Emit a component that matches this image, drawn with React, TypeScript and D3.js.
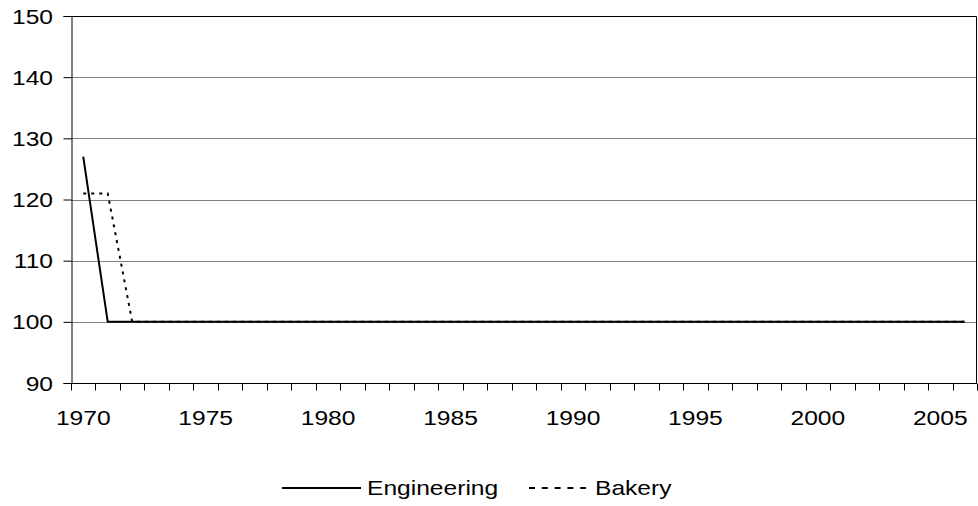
import React, { useEffect, useRef } from "react";
import * as d3 from "d3";

const years = d3.range(1970, 2007).map(String);
const engineering = [127, ...new Array(36).fill(100)];
const bakery = [121, 121, ...new Array(35).fill(100)];
const yTicks = [90, 100, 110, 120, 130, 140, 150];
const xLabelYears = ["1970", "1975", "1980", "1985", "1990", "1995", "2000", "2005"];

const FS = 20.5;
const SX = 1.2; // labels in the original are stretched horizontally

const LineChart = () => {
  const chartRef = useRef<SVGSVGElement>(null);

  const drawChart = () => {
    d3.select(chartRef.current).selectAll("*").remove();

    const width = 978;
    const height = 506;
    const left = 71;
    const right = 977;
    const top = 16;
    const bottom = 383;

    const svg = d3
      .select(chartRef.current)
      .attr("width", width)
      .attr("height", height)
      .style("font-family", "'Liberation Sans', Arial, sans-serif");

    const x = d3.scaleBand().domain(years).range([left, right]);
    const y = d3.scaleLinear().domain([90, 150]).range([bottom, top]);

    const label = (g: any, tx: number, ty: number, txt: string, anchor: string) =>
      g
        .append("text")
        .attr("transform", `translate(${tx},${ty}) scale(${SX},1)`)
        .attr("text-anchor", anchor)
        .attr("font-size", FS)
        .attr("fill", "#000")
        .text(txt);

    // gridlines
    svg
      .selectAll(".grid")
      .data(yTicks.filter((t) => t > 90 && t < 150))
      .join("line")
      .attr("x1", left)
      .attr("x2", right)
      .attr("y1", (d) => Math.round(y(d)) + 0.5)
      .attr("y2", (d) => Math.round(y(d)) + 0.5)
      .attr("stroke", "#808080")
      .attr("stroke-width", 1);

    // plot border (top + right)
    svg
      .append("path")
      .attr("d", `M${left},${top + 0.5}H${right - 0.5}V${bottom}`)
      .attr("fill", "none")
      .attr("stroke", "#000");

    // Y axis
    const yAxis = d3.axisLeft(y).tickValues(yTicks).tickSize(8).tickFormat(() => "");
    const gy = svg.append("g").attr("transform", `translate(${left + 0.5},0)`).call(yAxis);
    gy.select(".domain").attr("stroke", "#000");
    gy.selectAll(".tick line").attr("stroke", "#000");
    yTicks.forEach((t) => label(svg, 53, y(t) + 7.5, String(t), "end"));

    // X axis: ticks between categories
    const gx = svg.append("g").attr("transform", `translate(0,${bottom + 0.5})`);
    gx.append("line").attr("x1", left).attr("x2", right).attr("stroke", "#000");
    gx.selectAll(".xt")
      .data(years.concat(["end"]))
      .join("line")
      .attr("x1", (d, i) => Math.round(left + i * x.bandwidth()) + 0.5)
      .attr("x2", (d, i) => Math.round(left + i * x.bandwidth()) + 0.5)
      .attr("y1", 0)
      .attr("y2", 7)
      .attr("stroke", "#000");
    xLabelYears.forEach((d) => label(svg, x(d)! + x.bandwidth() / 2, 425, d, "middle"));

    const line = d3
      .line<number>()
      .x((d, i) => x(years[i])! + x.bandwidth() / 2)
      .y((d) => y(d));

    svg
      .append("path")
      .datum(engineering)
      .attr("d", line)
      .attr("fill", "none")
      .attr("stroke", "#000")
      .attr("stroke-width", 2);

    svg
      .append("path")
      .datum(bakery)
      .attr("d", line)
      .attr("fill", "none")
      .attr("stroke", "#000")
      .attr("stroke-width", 2)
      .attr("stroke-dasharray", "3,5");

    // legend
    svg.append("line").attr("x1", 282).attr("x2", 361).attr("y1", 488).attr("y2", 488)
      .attr("stroke", "#000").attr("stroke-width", 2);
    label(svg, 367, 495, "Engineering", "start");
    svg.append("line").attr("x1", 529).attr("x2", 586).attr("y1", 488).attr("y2", 488)
      .attr("stroke", "#000").attr("stroke-width", 2).attr("stroke-dasharray", "6,6.8");
    label(svg, 595, 495, "Bakery", "start");
  };

  useEffect(() => {
    drawChart();
  }, []);

  return <svg ref={chartRef}></svg>;
};

export default function App() {
  return (
    <div style={{ position: "absolute", left: 0, top: 0 }}>
      <LineChart />
    </div>
  );
}
